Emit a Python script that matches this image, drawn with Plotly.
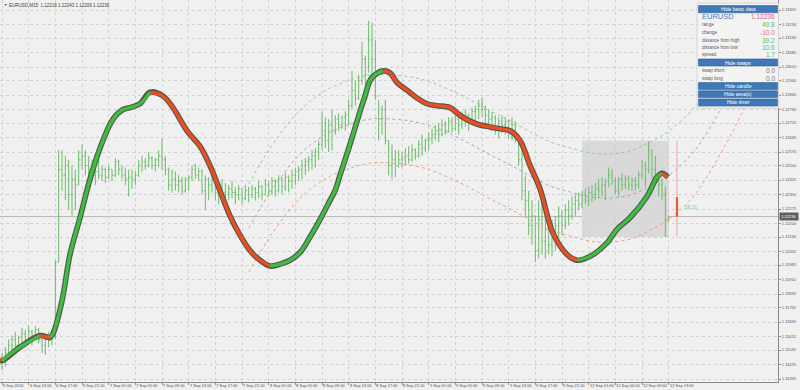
import plotly.graph_objects as go

# ---------------- data ----------------
# x axis = M15 bar index (0 = 6 Sep 09:00); labels every 16 bars (4h)
time_tick_idx = list(range(0, 401, 16))
time_tick_text = ["6 Sep 2016", "6 Sep 13:00", "6 Sep 17:00", "6 Sep 21:00", "7 Sep 01:00", "7 Sep 05:00",
                  "7 Sep 09:00", "7 Sep 13:00", "7 Sep 17:00", "7 Sep 21:00", "8 Sep 01:00", "8 Sep 05:00",
                  "8 Sep 09:00", "8 Sep 13:00", "8 Sep 17:00", "8 Sep 21:00", "9 Sep 01:00", "9 Sep 05:00",
                  "9 Sep 09:00", "9 Sep 13:00", "9 Sep 17:00", "9 Sep 21:00", "12 Sep 01:00", "12 Sep 05:00",
                  "12 Sep 09:00", "12 Sep 13:00"]
price_ticks = [1.13305, 1.13230, 1.13160, 1.13085, 1.13010, 1.12940, 1.12865, 1.12790, 1.12720, 1.12645,
               1.12570, 1.12500, 1.12425, 1.12350, 1.12275, 1.12200, 1.12130, 1.12055, 1.11985, 1.11910,
               1.11835, 1.11765, 1.11690, 1.11615, 1.11545, 1.11470, 1.11395]

bar_idx = list(range(0, 401, 2))
high = [1.1153,1.1156,1.1160,1.1162,1.1164,1.1162,1.1166,1.1165,1.1167,1.1165,1.1167,1.1166,1.1163,1.1162,1.1164,1.1165,
        1.1201,1.1258,1.1258,1.1255,1.1253,1.1250,1.1248,1.1258,1.1261,1.1258,1.1255,1.1253,1.1250,1.1253,1.1250,1.1249,
        1.1250,1.1248,1.1254,1.1253,1.1250,1.1249,1.1248,1.1248,1.1247,1.1253,1.1255,1.1254,1.1257,1.1255,1.1254,1.1258,
        1.1264,1.1255,1.1249,1.1248,1.1247,1.1245,1.1244,1.1244,1.1245,1.1250,1.1251,1.1249,1.1248,1.1245,1.1244,1.1247,
        1.1243,1.1242,1.1243,1.1241,1.1240,1.1242,1.1239,1.1240,1.1238,1.1240,1.1239,1.1240,1.1239,1.1242,1.1240,1.1243,
        1.1242,1.1244,1.1243,1.1245,1.1244,1.1246,1.1245,1.1248,1.1249,1.1250,1.1253,1.1254,1.1255,1.1258,1.1259,1.1263,
        1.1278,1.1275,1.1274,1.1279,1.1276,1.1277,1.1276,1.1278,1.1284,1.1299,1.1294,1.1297,1.1314,1.1307,1.1325,1.1324,
        1.1315,1.1284,1.1281,1.1284,1.1263,1.1261,1.1258,1.1258,1.1257,1.1259,1.1260,1.1261,1.1259,1.1263,1.1266,1.1264,
        1.1267,1.1269,1.1271,1.1272,1.1274,1.1273,1.1275,1.1275,1.1276,1.1275,1.1278,1.1279,1.1277,1.1280,1.1281,1.1284,
        1.1285,1.1281,1.1279,1.1278,1.1276,1.1275,1.1276,1.1275,1.1274,1.1275,1.1273,1.1266,1.1258,1.1245,1.1237,1.1232,
        1.1224,1.1232,1.1237,1.1232,1.1224,1.1222,1.1224,1.1229,1.1227,1.1230,1.1232,1.1234,1.1235,1.1236,1.1237,1.1238,
        1.1239,1.1240,1.1241,1.1243,1.1244,1.1243,1.1249,1.1248,1.1244,1.1244,1.1246,1.1245,1.1245,1.1244,1.1244,1.1247,
        1.1253,1.1252,1.12628,1.1258,1.1255,1.1244,1.1243,1.1239,1.12243]
low = [1.1144,1.1146,1.1150,1.1153,1.1155,1.1155,1.1157,1.1157,1.1159,1.1157,1.1160,1.1158,1.1153,1.1152,1.1156,1.1157,
       1.1160,1.1200,1.1237,1.1232,1.1227,1.1224,1.1227,1.1240,1.1248,1.1245,1.1244,1.1242,1.1240,1.1243,1.1242,1.1241,
       1.1243,1.1242,1.1244,1.1245,1.1243,1.1240,1.1234,1.1238,1.1240,1.1244,1.1247,1.1248,1.1249,1.1248,1.1247,1.1249,
       1.1248,1.1245,1.1237,1.1236,1.1237,1.1236,1.1235,1.1236,1.1237,1.1242,1.1243,1.1242,1.1235,1.1227,1.1232,1.1236,
       1.1232,1.1230,1.1233,1.1231,1.1232,1.1233,1.1230,1.1232,1.1230,1.1232,1.1231,1.1233,1.1232,1.1233,1.1232,1.1235,
       1.1234,1.1235,1.1234,1.1236,1.1235,1.1237,1.1236,1.1238,1.1240,1.1242,1.1243,1.1245,1.1247,1.1248,1.1249,1.1253,
       1.1258,1.1259,1.1257,1.1258,1.1266,1.1268,1.1269,1.1268,1.1271,1.1279,1.1281,1.1284,1.1292,1.1289,1.1298,1.1294,
       1.1284,1.1263,1.1266,1.1261,1.1245,1.1243,1.1244,1.1249,1.1249,1.1250,1.1251,1.1252,1.1253,1.1254,1.1255,1.1257,
       1.1258,1.1261,1.1263,1.1262,1.1265,1.1266,1.1267,1.1267,1.1268,1.1266,1.1269,1.1270,1.1268,1.1271,1.1273,1.1274,
       1.1275,1.1271,1.1269,1.1268,1.1266,1.1264,1.1267,1.1266,1.1264,1.1263,1.1262,1.1250,1.1232,1.1224,1.1214,1.1209,
       1.1200,1.1202,1.1204,1.1202,1.1204,1.1203,1.1206,1.1213,1.1214,1.1217,1.1219,1.1222,1.1224,1.1227,1.1228,1.1230,
       1.1229,1.1231,1.1232,1.1233,1.1234,1.1232,1.1239,1.1240,1.1235,1.1234,1.1237,1.1238,1.1237,1.1237,1.1237,1.1238,
       1.1243,1.1239,1.1246,1.1243,1.1241,1.1234,1.1232,1.12130,1.12209]
close = [1.1149,1.1153,1.1157,1.1160,1.1157,1.1161,1.1163,1.1160,1.1164,1.1160,1.1165,1.1160,1.1157,1.1161,1.1162,1.1162,
         1.1200,1.1248,1.1245,1.1250,1.1235,1.1243,1.1240,1.1253,1.1255,1.1250,1.1248,1.1245,1.1247,1.1245,1.1248,1.1244,
         1.1248,1.1245,1.1252,1.1248,1.1245,1.1243,1.1244,1.1243,1.1245,1.1250,1.1252,1.1250,1.1254,1.1250,1.1253,1.1255,
         1.1253,1.1248,1.1240,1.1243,1.1240,1.1242,1.1237,1.1243,1.1244,1.1248,1.1245,1.1247,1.1237,1.1243,1.1240,1.1243,
         1.1236,1.1238,1.1236,1.1235,1.1238,1.1236,1.1235,1.1238,1.1233,1.1237,1.1235,1.1238,1.1236,1.1239,1.1235,1.1240,
         1.1237,1.1242,1.1237,1.1243,1.1239,1.1244,1.1242,1.1245,1.1247,1.1248,1.1250,1.1252,1.1253,1.1255,1.1257,1.1261,
         1.1268,1.1263,1.1271,1.1268,1.1274,1.1271,1.1275,1.1276,1.1281,1.1289,1.1285,1.1294,1.1305,1.1297,1.1315,1.1305,
         1.1286,1.1274,1.1279,1.1263,1.1250,1.1253,1.1250,1.1253,1.1254,1.1255,1.1253,1.1258,1.1255,1.1261,1.1259,1.1263,
         1.1264,1.1266,1.1268,1.1266,1.1271,1.1268,1.1273,1.1269,1.1274,1.1271,1.1275,1.1276,1.1274,1.1278,1.1279,1.1281,
         1.1279,1.1276,1.1274,1.1275,1.1269,1.1273,1.1271,1.1273,1.1268,1.1271,1.1264,1.1253,1.1237,1.1232,1.1219,1.1224,
         1.1206,1.1222,1.1211,1.1217,1.1209,1.1214,1.1219,1.1224,1.1219,1.1227,1.1224,1.1230,1.1232,1.1230,1.1235,1.1232,
         1.1236,1.1235,1.1238,1.1237,1.1240,1.1242,1.1245,1.1242,1.1237,1.1243,1.1240,1.1243,1.1240,1.1242,1.1240,1.1245,
         1.1250,1.1248,1.1258,1.1248,1.1244,1.1240,1.1235,1.1222,1.12236]
open_ = [1.1151] + close[:-1]

# smoothed trend line (thick)
trend_idx = [-1.2, 0, 10.8, 22.8, 28.8, 30.6, 36, 40.8, 46.8, 52.8, 58.8, 66.6, 72.6, 76.8, 82.8, 88.8, 96.6, 102.6,
             111, 118.8, 124.8, 130.8, 136.8, 142.8, 148.8, 154.8, 160.8, 166.8, 172.8, 178.8, 184.8, 190.8, 196.8,
             199.8, 202.8, 208.8, 214.8, 217.8, 220.8, 223.8, 228.6, 232.8, 237, 243, 249, 255, 261, 268.8, 274.8,
             280.8, 286.8, 292.8, 298.8, 304.8, 310.8, 316.8, 322.8, 330.6, 339, 345, 352.8, 363, 369, 376.8, 387,
             393, 396, 399.6]
trend_val = [1.1150, 1.1149, 1.1156, 1.1162, 1.1161, 1.1163, 1.1180, 1.1204, 1.1223, 1.1243, 1.1259, 1.1274, 1.1279,
             1.1280, 1.1282, 1.1288, 1.1286, 1.1280, 1.1268, 1.1260, 1.1250, 1.1237, 1.1224, 1.1214, 1.1206, 1.1201,
             1.1198, 1.1199, 1.1201, 1.1205, 1.1213, 1.1222, 1.1232, 1.1237, 1.1245, 1.1261, 1.1278, 1.1286, 1.1294,
             1.1297, 1.1299, 1.1298, 1.1293, 1.1289, 1.1285, 1.1282, 1.1281, 1.1280, 1.1276, 1.1273, 1.1271, 1.1270,
             1.1269, 1.1268, 1.1263, 1.1250, 1.1238, 1.1215, 1.1204, 1.1201, 1.1203, 1.1210, 1.1217, 1.1223, 1.1234,
             1.1244, 1.1246, 1.1244]

# regression channel (dotted)
chan_idx = [148, 155, 161, 167, 173, 179, 185, 191, 197, 209, 221, 233, 245, 257, 269, 281, 293, 305, 317, 329,
            341, 353, 365, 377, 389, 401, 413, 419, 425, 431, 437, 443, 449, 455]
chan_mid = [1.12177, 1.12280, 1.12363, 1.12436, 1.12503, 1.12560, 1.12606, 1.12643, 1.12674, 1.12715, 1.12741,
            1.12741, 1.12731, 1.12705, 1.12663, 1.12612, 1.12555, 1.12503, 1.12446, 1.12394, 1.12363, 1.12337,
            1.12332, 1.12348, 1.12394, 1.12456, 1.12550, 1.12617, 1.12700, 1.12788, 1.12881, 1.12984, 1.13098, 1.13222]
chan_up = [1.12405, 1.12508, 1.12591, 1.12664, 1.12731, 1.12788, 1.12834, 1.12871, 1.12902, 1.12943, 1.12969,
           1.12969, 1.12959, 1.12933, 1.12891, 1.12840, 1.12783, 1.12731, 1.12674, 1.12622, 1.12591, 1.12565,
           1.12560, 1.12576, 1.12622, 1.12684, 1.12778, 1.12845, 1.12928, 1.13016, 1.13109, 1.13212, 1.13326, 1.13450]
chan_dn = [1.11949, 1.12052, 1.12135, 1.12208, 1.12275, 1.12332, 1.12378, 1.12415, 1.12446, 1.12487, 1.12513,
           1.12513, 1.12503, 1.12477, 1.12435, 1.12384, 1.12327, 1.12275, 1.12218, 1.12166, 1.12135, 1.12109,
           1.12104, 1.12120, 1.12166, 1.12228, 1.12322, 1.12389, 1.12472, 1.12560, 1.12653, 1.12756, 1.12870, 1.12994]

day_start_idx, last_idx, timer_idx = 348, 400, 405
day_high, day_low, day_open, bid = 1.12628, 1.12130, 1.12336, 1.12236
timer_text = "18:11"
title_text = "EURUSD,M15  1.12218 1.12243 1.12209 1.12236"
info_rows = [("range", "49.8", "#5cbf5c"), ("change", "-10.0", "#e06a8e"), ("distance from high", "39.2", "#5cbf5c"),
             ("distance from low", "10.6", "#5cbf5c"), ("spread", "1.7", "#5cbf5c")]
swap_rows = [("swap short", "0.0"), ("swap long", "0.0")]

# ---------------- layout geometry ----------------
W, H = 800, 390
ML, MR, MT, MB = 0, 22, 0, 8
PW, PH = W - ML - MR, H - MT - MB
def px(x): return (x - ML) / PW
def py(y): return 1 - (y - MT) / PH

FONT = "Liberation Sans"
BG = "#f0f0f0"
GRID = "#d2d2d2"
GREEN, RED = "#3cbf3c", "#ee4e1c"

fig = go.Figure()

# channel curves
for vals, col in [(chan_up, "#86d486"), (chan_mid, "#a8a8a8"), (chan_dn, "#f59a78")]:
    fig.add_trace(go.Scatter(x=chan_idx, y=vals, mode="lines", line=dict(color=col, width=1, dash="dot", shape="spline"),
                             hoverinfo="skip", showlegend=False))

# price bars
fig.add_trace(go.Ohlc(x=bar_idx, open=open_, high=high, low=low, close=close,
                      increasing=dict(line=dict(color="#6abb6a", width=1)),
                      decreasing=dict(line=dict(color="#6abb6a", width=1)),
                      tickwidth=0.35, hoverinfo="skip", showlegend=False))

# thick trend line: dark outline then coloured runs
fig.add_trace(go.Scatter(x=trend_idx, y=trend_val, mode="lines",
                         line=dict(color="#555555", width=5.6, shape="spline"), hoverinfo="skip", showlegend=False))
runs = []
start = 0
for i in range(1, len(trend_val) - 1):
    up_prev = trend_val[i] >= trend_val[i - 1]
    up_next = trend_val[i + 1] >= trend_val[i]
    if up_prev != up_next:
        runs.append((start, i, up_prev))
        start = i
runs.append((start, len(trend_val) - 1, trend_val[-1] >= trend_val[-2]))
for a, b, up in runs:
    fig.add_trace(go.Scatter(x=trend_idx[a:b + 1], y=trend_val[a:b + 1], mode="lines",
                             line=dict(color=GREEN if up else RED, width=3.3, shape="spline"),
                             hoverinfo="skip", showlegend=False))

shapes = []
# day range area
shapes.append(dict(type="rect", xref="x", yref="y", x0=day_start_idx, x1=last_idx, y0=day_low, y1=day_high,
                   fillcolor="#d9d9d9", line=dict(width=0), layer="below"))
# bid line
shapes.append(dict(type="line", xref="paper", yref="y", x0=0, x1=1, y0=bid, y1=bid,
                   line=dict(color="#b8b8b8", width=1), layer="below"))
# timer vertical (daily candle)
shapes.append(dict(type="line", xref="x", yref="y", x0=timer_idx, x1=timer_idx, y0=day_low, y1=day_high,
                   line=dict(color="#f0a0a0", width=1)))
shapes.append(dict(type="line", xref="x", yref="y", x0=timer_idx, x1=timer_idx, y0=bid, y1=day_open,
                   line=dict(color="#ee5a30", width=2.2)))

annotations = []
annotations.append(dict(x=timer_idx + 3, y=(bid + day_open) / 2, xref="x", yref="y", text=timer_text,
                        showarrow=False, xanchor="left", yanchor="middle",
                        font=dict(family=FONT, size=5.5, color="#8fcf8f")))

# info panel
shapes.append(dict(type="rect", xref="paper", yref="paper", x0=px(697), x1=px(778.6), y0=py(108), y1=py(3),
                   fillcolor="#f3f3f3", line=dict(color="#d6d6d6", width=1), layer="above"))
buttons = [(5.6, 12.8, "Hide basic data"), (59.0, 66.0, "Hide swaps"), (82.6, 89.4, "Hide candle"),
           (90.8, 97.6, "Hide area(s)"), (99.0, 106.0, "Hide timer")]
for yt, yb, label in buttons:
    shapes.append(dict(type="rect", xref="paper", yref="paper", x0=px(698.5), x1=px(777.5), y0=py(yb), y1=py(yt),
                       fillcolor="#3f78b6", line=dict(color="#2e6098", width=0.6), layer="above"))
    annotations.append(dict(x=px(738), y=py((yt + yb) / 2), xref="paper", yref="paper", text=label,
                            showarrow=False, xanchor="center", yanchor="middle",
                            font=dict(family=FONT, size=5, color="white")))
annotations.append(dict(x=px(699.5), y=py(16.8), xref="paper", yref="paper", text="EURUSD", showarrow=False,
                        xanchor="left", yanchor="middle", font=dict(family=FONT, size=7.5, color="#4a7dbb")))
annotations.append(dict(x=px(777), y=py(16.8), xref="paper", yref="paper", text="1.12236", showarrow=False,
                        xanchor="right", yanchor="middle", font=dict(family=FONT, size=6.5, color="#e0608a")))
row_y = [24.3, 32.2, 40.0, 47.3, 54.4]
for (lab, val, col), yy in zip(info_rows, row_y):
    annotations.append(dict(x=px(699.5), y=py(yy), xref="paper", yref="paper", text=lab, showarrow=False,
                            xanchor="left", yanchor="middle", font=dict(family=FONT, size=4.6, color="#5a5a5a")))
    annotations.append(dict(x=px(777), y=py(yy), xref="paper", yref="paper", text=val, showarrow=False,
                            xanchor="right", yanchor="middle", font=dict(family=FONT, size=6.5, color=col)))
for (lab, val), yy in zip(swap_rows, [70.7, 78.3]):
    annotations.append(dict(x=px(699.5), y=py(yy), xref="paper", yref="paper", text=lab, showarrow=False,
                            xanchor="left", yanchor="middle", font=dict(family=FONT, size=4.6, color="#5a5a5a")))
    annotations.append(dict(x=px(777), y=py(yy), xref="paper", yref="paper", text=val, showarrow=False,
                            xanchor="right", yanchor="middle", font=dict(family=FONT, size=6.5, color="#777777")))

# title
annotations.append(dict(x=px(2), y=py(5.2), xref="paper", yref="paper", text="▼", showarrow=False,
                        xanchor="left", yanchor="middle", font=dict(family=FONT, size=3.5, color="#404040")))
annotations.append(dict(x=px(7), y=py(5.2), xref="paper", yref="paper", text=title_text, showarrow=False,
                        xanchor="left", yanchor="middle", font=dict(family=FONT, size=4.5, color="#404040")))

# time labels (left-aligned at tick like MT4)
for ti, tt in zip(time_tick_idx, time_tick_text):
    annotations.append(dict(x=ti, y=py(385.8), xref="x", yref="paper", text=tt, showarrow=False, xanchor="left",
                            yanchor="middle", borderpad=0, font=dict(family=FONT, size=4, color="#505050")))

# current price box on the axis
annotations.append(dict(x=1, y=bid, xref="paper", yref="y", text="1.12236", showarrow=False, xanchor="left",
                        yanchor="middle", xshift=1, bgcolor="#5e5e5e", borderpad=1.2,
                        font=dict(family=FONT, size=4, color="white")))

x_lo = -1.2
x_hi = x_lo + PW / 1.6667
y_hi = 1.13357
y_lo = y_hi - PH * 5.176e-5

fig.update_layout(
    width=W, height=H, margin=dict(l=ML, r=MR, t=MT, b=MB, pad=0),
    paper_bgcolor=BG, plot_bgcolor=BG, showlegend=False,
    shapes=shapes, annotations=annotations,
    xaxis=dict(range=[x_lo, x_hi], tickvals=time_tick_idx, showticklabels=False, showgrid=True, gridcolor=GRID,
               griddash="dot", gridwidth=1, zeroline=False, showline=True, linecolor="#8a8a8a", linewidth=1,
               ticks="outside", ticklen=2, tickcolor="#8a8a8a", rangeslider=dict(visible=False), fixedrange=True),
    yaxis=dict(range=[y_lo, y_hi], side="right", tickvals=price_ticks, ticktext=[f"{v:.5f}" for v in price_ticks],
               tickfont=dict(family=FONT, size=4, color="#505050"), showgrid=True, gridcolor=GRID, griddash="dot",
               gridwidth=1, zeroline=False, showline=True, linecolor="#8a8a8a", linewidth=1, ticks="outside",
               ticklen=2, tickcolor="#8a8a8a", fixedrange=True),
)

fig.write_html("out.html")
